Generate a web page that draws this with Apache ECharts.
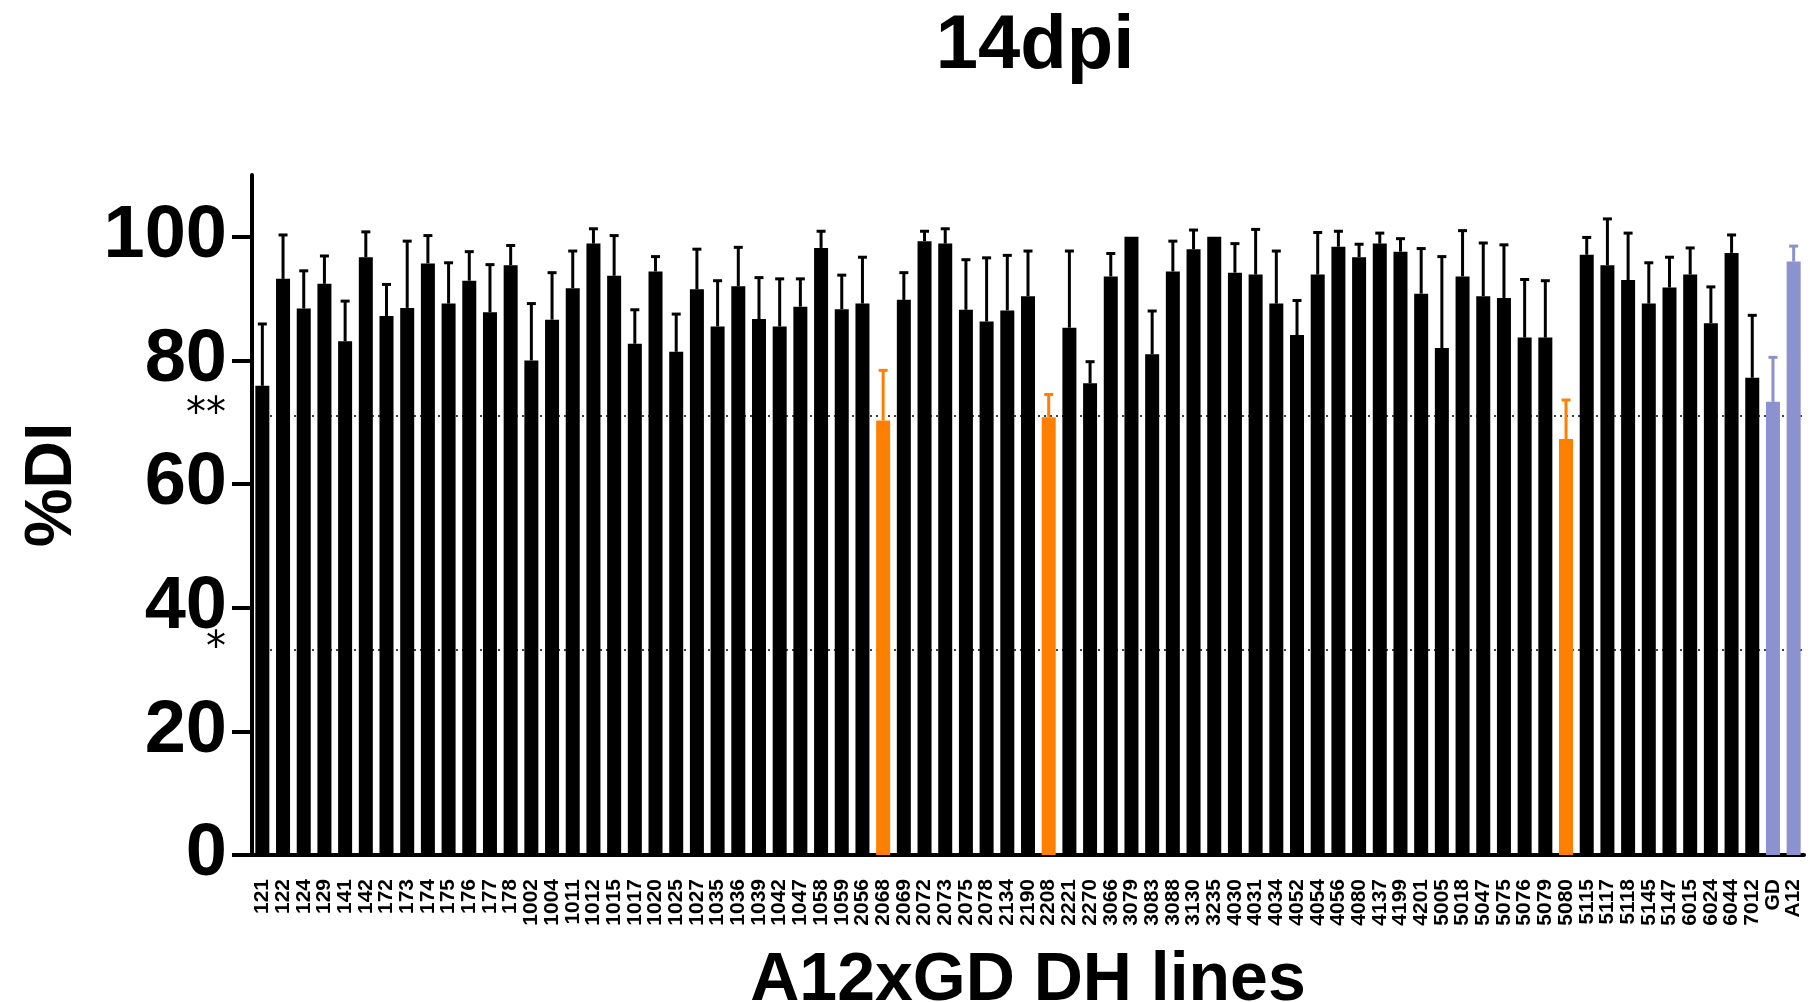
<!DOCTYPE html>
<html>
<head>
<meta charset="utf-8">
<title>14dpi</title>
<script src="https://cdn.jsdelivr.net/npm/echarts@6/dist/echarts.min.js"></script>
<style>
  html, body { margin: 0; padding: 0; background: #fff; }
  #chart { width: 1810px; height: 1002px; }
</style>
</head>
<body>
<div id="chart"></div>
<script>
const lines = [
  '121', '122', '124', '129', '141', '142', '172', '173', '174', '175', '176', '177', '178',
  '1002', '1004', '1011', '1012', '1015', '1017', '1020', '1025', '1027', '1035', '1036', '1039',
  '1042', '1047', '1058', '1059', '2056', '2068', '2069', '2072', '2073', '2075', '2078', '2134',
  '2190', '2208', '2221', '2270', '3066', '3079', '3083', '3088', '3130', '3235', '4030', '4031',
  '4034', '4052', '4054', '4056', '4080', '4137', '4199', '4201', '5005', '5018', '5047', '5075',
  '5076', '5079', '5080', '5115', '5117', '5118', '5145', '5147', '6015', '6024', '6044', '7012',
  'GD', 'A12'
]
// mean %DI per line
const meanDI = [
  75.9, 93.2, 88.4, 92.4, 83.1, 96.7, 87.2, 88.5, 95.7, 89.2, 92.9, 87.8, 95.4,
  80.0, 86.6, 91.7, 98.9, 93.7, 82.7, 94.4, 81.4, 91.5, 85.5, 92.0, 86.7,
  85.5, 88.7, 98.2, 88.3, 89.2, 70.3, 89.8, 99.3, 98.9, 88.2, 86.3, 88.1,
  90.4, 70.8, 85.3, 76.3, 93.6, 100, 81.0, 94.4, 98.0, 100, 94.2, 93.9,
  89.2, 84.1, 93.9, 98.4, 96.7, 98.9, 97.6, 90.8, 82.0, 93.6, 90.4, 90.1,
  83.7, 83.7, 67.3, 97.1, 95.4, 93.0, 89.2, 91.8, 93.9, 86.0, 97.4, 77.2,
  73.3, 96.0
]
// upper error (SD)
const sdDI = [
  10.0, 7.1, 6.1, 4.5, 6.5, 4.1, 5.1, 10.8, 4.5, 6.6, 4.7, 7.7, 3.2,
  9.2, 7.6, 6.0, 2.4, 6.5, 5.5, 2.4, 6.1, 6.5, 7.4, 6.3, 6.7,
  7.7, 4.5, 2.7, 5.5, 7.5, 8.1, 4.4, 1.6, 2.4, 8.1, 10.3, 8.9,
  7.3, 3.7, 12.4, 3.5, 3.7, 0, 7.0, 4.9, 3.1, 0, 4.7, 7.3,
  8.5, 5.6, 6.8, 2.5, 2.1, 1.7, 2.1, 7.3, 14.8, 7.4, 8.6, 8.6,
  9.4, 9.2, 6.3, 2.8, 7.5, 7.6, 6.6, 4.9, 4.3, 5.9, 2.9, 10.1,
  7.2, 2.5
]
const resistantLines = ['2068', '2208', '5080']
const parentLines = ['GD', 'A12']
const sigLevels = [71, 33.2]
const sigMarks = ['**', '*']
const yTicks = [0, 20, 40, 60, 80, 100]

function lineColor(name) {
  if (resistantLines.indexOf(name) >= 0) return '#FF8000'
  if (parentLines.indexOf(name) >= 0) return '#8C91CF'
  return '#000000'
}

const barData = lines.map((name, i) => ({
  value: meanDI[i],
  itemStyle: { color: lineColor(name) }
}))
const errData = lines.map((name, i) => ({
  value: [i, meanDI[i], sdDI[i]],
  itemStyle: { color: lineColor(name) }
}))

const chart = echarts.init(document.getElementById('chart'))
chart.setOption({
  animation: false,
  title: {
    text: '14dpi',
    left: 1030,
    top: 4,
    textAlign: 'center',
    textStyle: { fontFamily: 'Liberation Sans', fontSize: 76, fontWeight: 'bold', color: '#000' }
  },
  grid: { left: 252, right: 6, top: 175, bottom: 147, outerBoundsMode: 'none' },
  xAxis: {
    type: 'category',
    data: lines,
    name: 'A12xGD DH lines',
    nameLocation: 'middle',
    nameGap: 92,
    nameTextStyle: { fontFamily: 'Liberation Sans', fontSize: 68, fontWeight: 'bold', color: '#000' },
    axisLine: { lineStyle: { color: '#000', width: 4 } },
    axisTick: { alignWithLabel: true, length: 17, lineStyle: { color: '#000', width: 4 } },
    axisLabel: {
      interval: 0,
      rotate: 90,
      margin: 24,
      fontFamily: 'Liberation Sans',
      fontSize: 21,
      fontWeight: 'bold',
      color: '#000'
    }
  },
  yAxis: {
    type: 'value',
    min: 0,
    max: 110,
    interval: 20,
    name: '%DI',
    nameLocation: 'middle',
    nameGap: 166,
    nameTextStyle: {
      fontFamily: 'Liberation Sans', fontSize: 66, fontWeight: 'bold', color: '#000',
      padding: [0, 0, 0, 60]
    },
    splitLine: { show: false },
    axisLine: { show: true, lineStyle: { color: '#000', width: 4 } },
    axisTick: { show: true, length: 20, customValues: yTicks, lineStyle: { color: '#000', width: 4 } },
    axisLabel: {
      customValues: yTicks,
      margin: 25,
      fontFamily: 'Liberation Sans',
      fontSize: 74,
      fontWeight: 'bold',
      color: '#000'
    }
  },
  series: [
    {
      type: 'line',
      data: [],
      z: 1,
      markLine: {
        z: 1,
        silent: true,
        symbol: 'none',
        lineStyle: { color: '#000', type: [2, 4], width: 1.5 },
        label: {
          position: 'start',
          distance: 26,
          fontFamily: 'DejaVu Sans',
          fontSize: 40,
          color: '#000',
          padding: [0, 0, 6, 0]
        },
        data: sigLevels.map((v, i) => ({ yAxis: v, label: { formatter: sigMarks[i] } }))
      }
    },
    {
      type: 'bar',
      data: barData,
      barWidth: 14,
      z: 2
    },
    {
      type: 'custom',
      z: 3,
      data: errData,
      encode: { x: 0, y: 1 },
      renderItem(params, api) {
        const idx = api.value(0)
        const mean = api.value(1)
        const sd = api.value(2)
        if (!sd) return
        const base = api.coord([idx, mean])
        const top = api.coord([idx, mean + sd])
        const color = api.visual('color')
        return {
          type: 'group',
          children: [
            {
              type: 'line',
              shape: { x1: base[0], y1: base[1], x2: top[0], y2: top[1] },
              style: { stroke: color, lineWidth: 3 }
            },
            {
              type: 'line',
              shape: { x1: top[0] - 4.5, y1: top[1], x2: top[0] + 4.5, y2: top[1] },
              style: { stroke: color, lineWidth: 3 }
            }
          ]
        }
      }
    }
  ]
})
</script>
</body>
</html>
